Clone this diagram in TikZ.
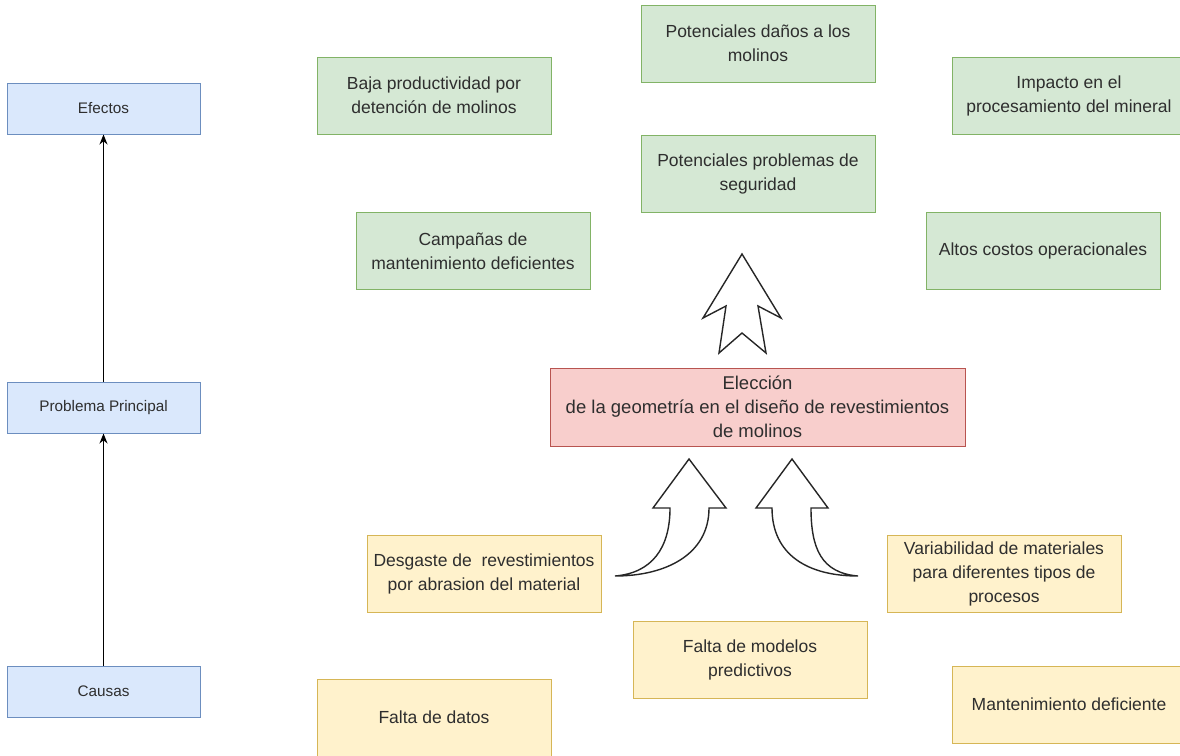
\documentclass[tikz,border=0pt]{standalone}
\usepackage{fontspec}
\setmainfont{Liberation Sans}
\usetikzlibrary{arrows.meta}
\definecolor{blueFill}{HTML}{DAE8FC}
\definecolor{blueLine}{HTML}{6C8EBF}
\definecolor{greenFill}{HTML}{D5E8D4}
\definecolor{greenLine}{HTML}{82B366}
\definecolor{redFill}{HTML}{F8CECC}
\definecolor{redLine}{HTML}{B85450}
\definecolor{yellowFill}{HTML}{FFF2CC}
\definecolor{yellowLine}{HTML}{D6B656}
\definecolor{txt}{HTML}{2E2E2E}
\tikzset{
  basebox/.style={draw, line width=1pt, align=center, text=txt, inner sep=0pt,
    minimum width=234pt, minimum height=77pt},
  sidebox/.style={basebox, fill=blueFill, draw=blueLine, minimum width=193pt,
    minimum height=51pt, font=\fontsize{15.3}{18}\selectfont},
  effbox/.style={basebox, fill=greenFill, draw=greenLine, font=\fontsize{17.5}{24}\selectfont},
  causebox/.style={basebox, fill=yellowFill, draw=yellowLine, font=\fontsize{17.5}{24}\selectfont},
  probbox/.style={basebox, fill=redFill, draw=redLine, minimum width=415pt,
    minimum height=78pt, font=\fontsize{18.5}{24}\selectfont},
  link/.style={draw=black, line width=1pt, -{Stealth[length=10pt,width=8pt]}},
  bigarrow/.style={draw=black!85, line width=1.4pt, line join=miter, fill=white}
}
\begin{document}
\begin{tikzpicture}[x=1pt, y=-1pt]
\useasboundingbox (0,0) rectangle (1180,755);
\clip (0,0) rectangle (1180,755);
\fill[white] (0,0) rectangle (1180,755);

% left legend column
\node[sidebox] (efectos) at (103.5,108.5) {Efectos};
\node[sidebox] (problema) at (103.5,407.5) {Problema Principal};
\node[sidebox] (causas) at (103.5,691.5) {Causas};
\draw[link] (causas) -- (problema);
\draw[link] (problema) -- (efectos);

% effects
\node[effbox] (baja) at (434,95.5) {Baja productividad por\\detención de molinos};
\node[effbox] (danos) at (758,43.5) {Potenciales daños a los\\molinos};
\node[effbox] (impacto) at (1069,95.5) {Impacto en el\\procesamiento del mineral};
\node[effbox] (seguridad) at (758,173.5) {Potenciales problemas de\\seguridad};
\node[effbox] (campanas) at (473,251) {Campañas de\\mantenimiento deficientes};
\node[effbox] (costos) at (1043,251) {Altos costos operacionales};

% main problem
\node[probbox] (eleccion) at (757.5,407) {Elección\\de la geometría en el diseño de revestimientos\\de molinos};

% causes
\node[causebox] (desgaste) at (484,574) {Desgaste de\ \ revestimientos\\por abrasion del material};
\node[causebox] (variabilidad) at (1004,574) {Variabilidad de materiales\\para diferentes tipos de\\procesos};
\node[causebox] (modelos) at (750,659.5) {Falta de modelos\\predictivos};
\node[causebox] (datos) at (434,717.5) {Falta de datos};
\node[causebox] (mantenimiento) at (1069,704.5) {Mantenimiento deficiente};

% block arrow from the problem up to the effects
\draw[bigarrow] (742,254) -- (781,318) -- (758,306) -- (766,353) -- (742,333)
  -- (719,353) -- (726,306) -- (703,318) -- cycle;

% curved block arrows from the causes up to the problem
\draw[bigarrow] (615,576) .. controls (652,573) and (670,548) .. (670,508)
  -- (653,508) -- (689,459) -- (726,508) -- (709,508)
  .. controls (709,555) and (665,576) .. (615,576) -- cycle;
\draw[bigarrow] (858,576) .. controls (821,573) and (811,548) .. (811,508)
  -- (828,508) -- (792,459) -- (756,508) -- (772,508)
  .. controls (772,555) and (808,576) .. (858,576) -- cycle;
\end{tikzpicture}
\end{document}
